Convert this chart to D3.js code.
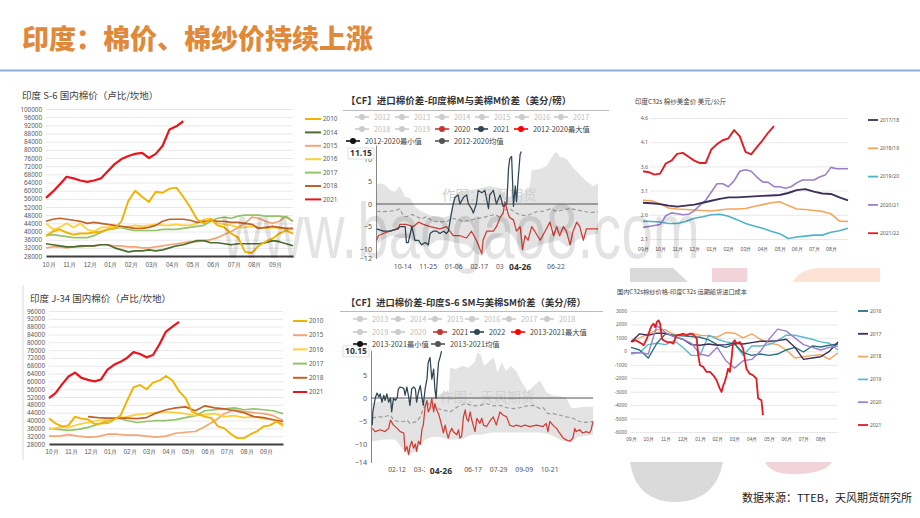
<!DOCTYPE html>
<html><head><meta charset="utf-8">
<script src="https://cdn.jsdelivr.net/npm/d3@7"></script>
<style>
body{margin:0;background:#fff;}
svg{display:block;font-family:"Noto Sans CJK SC","Noto Sans",sans-serif;}
</style></head><body>
<svg id="c" width="920" height="518"></svg>
<script>
// ================= DATA =================
const pageTitle = "印度：棉价、棉纱价持续上涨";
const sourceText = "数据来源：TTEB，天风期货研究所";
const monthsOct = ["10月","11月","12月","01月","02月","03月","04月","05月","06月","07月","08月","09月"];
const monthsSep = ["09月","10月","11月","12月","01月","02月","03月","04月","05月","06月","07月","08月"];

// Panel 1: 印度 S-6 国内棉价 (卢比/坎地), 3 points per month from Oct
const s6Title = "印度 S-6 国内棉价（卢比/坎地）";
const s6Names = ["2010","2014","2015","2016","2017","2018","2021"];
const s6_2010 = [38000,40000,41000,39500,38500,39000,39000,39500,40000,41000,41500,45000,55000,60000,57000,54500,59500,59000,61000,61500,57000,52000,46000,44000,46000,43000,42000,39000,37000,30000,29500,33000,35000,36500,39000,40500,39000];
const s6_2014 = [34000,33500,33000,32500,32500,33000,33000,33000,33500,33500,32000,31000,30000,30500,30500,31000,30500,31000,32000,33000,33500,34500,35500,35500,34500,34500,34000,33500,34000,34000,34000,34000,34500,35500,35000,34000,33000];
const s6_2015 = [32000,32500,32500,32000,32500,32500,33000,33000,33500,33500,33000,33000,32500,32500,32000,32000,32500,33000,33500,34000,34500,35000,35000,35500,36000,37000,38500,40000,42000,44000,47000,46500,45000,44000,45000,47500,45000];
const s6_2016 = [44000,41000,42000,44000,42000,44000,41000,40000,42000,42000,42500,42000,42500,43000,42500,43000,43500,43000,43000,43500,43000,43000,44000,46000,46500,44000,43500,43000,42000,42000,42500,42000,41500,42000,41500,41000,41000];
const s6_2017 = [38000,38500,38000,37500,37000,37000,37000,38000,39500,41000,41500,42000,41000,40500,40500,40500,40500,41000,41000,41000,41500,42000,42500,43000,45000,46500,47000,46500,47500,48000,48000,48000,47500,47500,47500,47000,45000];
const s6_2018 = [45000,46000,46500,46000,45500,45000,44000,44500,44000,43500,43000,42500,42000,41500,41500,42000,43000,45000,46000,46000,46000,45500,44500,45000,45500,45000,45000,44500,44500,44000,43500,41500,42000,42500,42000,41500,41500];
const s6_2021 = [56500,59500,63000,66800,66000,65000,64300,65000,66000,69500,73000,75500,77000,78000,78500,76000,78000,82000,90000,91500,94000];

// Panel 4: 印度 J-34 国内棉价
const j34Title = "印度 J-34 国内棉价（卢比/坎地）";
const j34Names = ["2010","2015","2016","2017","2018","2021"];
const j34_2010 = [41200,38500,37000,37500,42000,41000,40500,38200,38500,38700,40500,42500,50000,57000,58200,56000,59400,60500,62800,60500,55000,51500,44500,43000,42000,41200,37000,36000,33000,31000,31000,33000,34500,37000,37500,39500,38000];
const j34_2015 = [32000,32000,32800,32000,31500,31800,33000,33000,32500,32500,32000,31500,32000,33500,34000,34400,37000,39900,43500,45500,44600,44000,43500,42500,40000];
const j34_2016 = [35500,36500,36500,38000,39000,40000,40500,41000,42000,43000,43500,44000,44500,44000,43500,42500,43000,43500,42000,42500,41500,42000,41000,40500,37000];
const j34_2017 = [36000,35500,35000,35500,36500,38000,40000,41500,40000,39000,39500,40000,40000,40500,41500,42500,45000,45500,46000,46500,45500,46000,45500,45000,43500];
const j34_2018 = [42000,41500,41200,41200,41200,41000,41500,43800,45500,46500,47000,45000,47500,46500,46000,45000,44000,42000,41500,40400,39500];
const j34_2021 = [51400,54000,58500,62500,64500,61800,60800,60000,61000,66000,68500,70000,72000,75000,74000,72300,73500,79000,85500,88000,90500];

// Panel 2: 印度棉M与美棉M价差 (day of season from Sep 1)
const p2Title = "【CF】进口棉价差-印度棉M与美棉M价差（美分/磅）";
const p2Legend = ["2012","2013","2014","2015","2016","2017","2018","2019","2020","2021","2012-2020最大值","2012-2020最小值","2012-2020均值"];
const p2TickDays = [43,85,127,169,211,295];
const p2TickLabels = ["10-14","11-25","01-06","02-17","03-31","06-22"];
const p2PointerDay = 237, p2PointerLabel = "04-26", p2PointerValue = 11.15;
const p2YTicks = [-12,-10,-5,0,5,10];
const p2_max = [[0,4.2],[7,4.6],[15,4.2],[23,3.1],[31,2.7],[39,3.9],[48,1.6],[56,1.3],[64,-0.5],[72,-1.5],[81,-2],[89,-2.5],[100,-2.8],[111,-3],[122,-2.5],[127,1.5],[133,2.5],[149,3],[171,3.5],[187,4],[204,3.5],[215,2],[226,1],[237,2],[248,3],[253,4],[256,7.4],[270,7.7],[281,8.5],[292,11],[297,11.5],[302,10.5],[313,10],[324,8],[335,6.5],[346,5],[357,4],[365,4.5]];
const p2_min = [[0,-9],[10,-8],[25,-7],[40,-7.5],[55,-7.5],[70,-9],[85,-9.5],[100,-8],[115,-8],[130,-8.5],[150,-9],[165,-11],[175,-11.5],[190,-8],[205,-7],[215,-6],[225,-7],[240,-10.5],[255,-10],[270,-9],[285,-8.5],[300,-8],[315,-9.5],[330,-8],[345,-7],[365,-6.5]];
const p2_mean = [[1,-1.6],[12,-1.7],[23,-1.6],[34,-1.3],[39,-1.1],[45,-2.6],[50,-2.8],[59,-2.3],[67,-2.8],[75,-3.3],[83,-2.8],[94,-3.8],[105,-3.9],[116,-3.9],[124,-3.2],[133,-3.3],[144,-3.9],[155,-3.6],[165,-3.2],[176,-3.0],[187,-2.6],[196,-2.3],[204,-3.0],[212,-1.3],[220,-1.0],[229,-1.9],[237,-2.4],[248,-2.6],[256,-2.1],[264,-1.7],[275,-1.6],[286,-1.1],[297,-1.6],[308,-1.3],[319,-1.0],[330,-1.3],[341,-1.6],[352,-1.9],[365,-1.7]];
const p2_2020 = [[1,-8],[4,-7],[12,-6.5],[23,-6],[37,-5.5],[39,-4.5],[50,-4.5],[61,-5],[70,-4],[78,-4.5],[89,-5],[105,-5.5],[116,-5],[127,-7],[138,-7],[149,-7.5],[157,-6],[165,-8],[174,-11],[176,-8],[182,-6],[193,-6],[198,-5],[204,-3],[209,-2],[212,0.5],[215,-1],[218,-2.5],[220,-3],[226,-3.5],[231,-6],[237,-5],[241,-10],[245,-7],[250,-8],[256,-5],[261,-6],[270,-8],[278,-6],[286,-4],[292,-7],[297,-5],[302,-7],[308,-5],[313,-6],[319,-9],[324,-6],[330,-4],[335,-5],[341,-8],[346,-5.5],[357,-5.5],[365,-5.5]];
const p2_2021 = [[1,-5.5],[12,-6],[23,-6],[34,-5.5],[39,-5],[48,-5],[50,-8.5],[53,-8.5],[59,-5],[64,-8],[70,-8],[75,-9],[81,-8.5],[86,-9],[89,-6.5],[94,-6],[100,-6],[105,-6.5],[111,-6],[116,-6.5],[119,-6],[124,-2],[127,0],[130,1.5],[135,2],[138,0],[144,1.5],[149,2],[152,0],[157,-1],[160,-2],[165,0],[168,3],[174,2.5],[179,3],[185,-1],[187,2],[193,3],[198,0],[204,2],[209,-0.5],[215,0],[218,8],[220,10],[223,10.5],[226,-0.5],[229,4],[231,0.5],[234,6],[237,11],[239,11.6]];

// Panel 5: 印度S-6 SM与美棉SM价差 (day of year)
const p5Title = "【CF】进口棉价差-印度S-6 SM与美棉SM价差（美分/磅）";
const p5Legend = ["2013","2014","2015","2016","2017","2018","2019","2020","2021","2022","2013-2021最大值","2013-2021最小值","2013-2021均值"];
const p5TickDays = [42,84,167,209,251,293];
const p5TickLabels = ["02-12","03-26","06-17","07-29","09-09","10-21"];
const p5PointerDay = 115, p5PointerLabel = "04-26", p5PointerValue = 10.15;
const p5YTicks = [-14,-10,-5,0,5];
const p5_max = [[0,-1.2],[10,-0.9],[20,-0.5],[30,-0.1],[40,-0.5],[50,-0.1],[60,-0.5],[70,-0.1],[80,-0.5],[90,-0.1],[100,0.2],[110,0.6],[120,1.3],[128,1.3],[130,6.6],[140,6.3],[150,7],[160,6.6],[170,7.7],[175,9.9],[180,9.5],[186,7],[195,8.1],[202,8.8],[208,5.6],[215,7.7],[222,5.9],[230,7],[240,5.6],[248,3.4],[258,1.3],[268,2.7],[278,3.8],[288,1.3],[298,0.6],[320,0.2],[330,-2.3],[350,-1.9],[365,-1.9]];
const p5_min = [[0,-9.5],[20,-9],[40,-9],[55,-11.6],[62,-12.3],[75,-11.6],[81,-10.1],[90,-9],[100,-8.5],[115,-8.5],[125,-9],[140,-9],[150,-8.9],[165,-8],[180,-8],[200,-7.5],[220,-7.5],[240,-7.5],[260,-7.5],[280,-7.5],[295,-8],[310,-9],[321,-9.5],[330,-9.5],[340,-8.5],[365,-8]];
const p5_mean = [[2,-4.4],[10,-4.1],[21,-4.1],[32,-3.7],[37,-4.8],[45,-5.1],[54,-5.1],[59,-4.8],[64,-5.5],[75,-5.1],[81,-4.1],[86,-2.3],[92,-0.9],[97,-1.6],[103,-1.9],[108,-2.3],[119,-2.6],[130,-3],[138,-2.3],[146,-1.6],[157,-1.2],[168,-1.7],[179,-1.6],[190,-1.2],[201,-1.7],[212,-1.6],[223,-2.1],[234,-2.3],[245,-2.1],[256,-1.7],[267,-1.6],[278,-2.3],[283,-2.1],[291,-3.4],[299,-3.4],[310,-3.7],[321,-4.1],[332,-4.4],[343,-5.1],[354,-5.3],[365,-5.1]];
const p5_2021 = [[2,-6.6],[7,-7.3],[15,-6.9],[23,-7.3],[29,-6.6],[32,-4.8],[37,-5.9],[43,-6.6],[48,-7.3],[54,-7.6],[56,-11.6],[59,-10.5],[62,-12.3],[64,-10.5],[67,-9.4],[70,-10.9],[73,-10],[75,-11.6],[78,-9.4],[81,-10.1],[84,-6.6],[86,-5.9],[89,-1.9],[92,-0.5],[94,-3],[97,-2.3],[100,-0.1],[103,-3],[105,-1.2],[108,-2.6],[111,-3.4],[114,-4.8],[116,-5.9],[119,-7.6],[122,-5.9],[124,-7.3],[127,-8.7],[130,-7.3],[133,-6.6],[135,-7.3],[141,-8],[144,-6.9],[146,-8.7],[149,-8.3],[152,-4.1],[155,-2.6],[157,-4.4],[160,-5.1],[163,-3],[165,-4.4],[168,-5.9],[171,-7.3],[174,-4.4],[179,-5.5],[182,-4.4],[185,-5.9],[190,-6.2],[195,-5.1],[201,-4.1],[206,-5.9],[212,-3],[217,-3.7],[223,-4.1],[228,-5.9],[234,-6.2],[239,-5.9],[247,-6.2],[253,-5.9],[261,-6.2],[272,-5.9],[283,-6.2],[288,-5.5],[291,-7.3],[294,-5.1],[299,-5.9],[305,-6.6],[310,-7.6],[316,-8.7],[321,-9.1],[327,-9.4],[332,-8.7],[335,-6.6],[337,-7.3],[343,-6.9],[348,-7.6],[354,-7.3],[359,-7.6],[362,-6.9],[365,-5.1]];
const p5_2022 = [[2,-5.9],[3,-3],[7,0],[10,1.1],[13,0.2],[15,0.9],[18,-0.9],[21,0.6],[23,-0.5],[26,0.9],[29,-0.9],[32,0],[34,-3],[37,0],[40,-0.5],[43,0],[45,2],[48,2.4],[54,2.1],[56,0.6],[59,2.4],[62,0.2],[64,-1.6],[67,2],[70,2.4],[73,2],[75,-0.9],[78,1.3],[81,2.7],[84,-0.1],[86,-1.6],[89,2],[92,4.1],[94,7.7],[97,8.8],[100,4.1],[103,6.3],[105,2],[107,-0.1],[109,4.1],[111,7.7],[114,9.1],[116,10.2]];

// Panel 3: 印度C32s 棉纱美金价 美元/公斤 (months from Sep)
const p3Title = "印度C32s 棉纱美金价   美元/公斤";
const p3Names = ["2017/18","2018/19","2019/20","2020/21","2021/22"];
const p3YTicks = [2.1,2.6,3.1,3.6,4.1,4.6];
const p3_1718 = [2.85,2.84,2.82,2.79,2.77,2.79,2.81,2.85,2.89,2.93,2.96,2.96,2.97,2.98,2.99,3.00,3.01,3.05,3.11,3.13,3.08,3.04,3.03,2.96,2.90];
const p3_1819 = [2.90,2.89,2.83,2.74,2.72,2.71,2.70,2.69,2.68,2.70,2.72,2.72,2.73,2.77,2.81,2.85,2.87,2.79,2.72,2.71,2.69,2.67,2.62,2.47,2.46];
const p3_1920 = [2.47,2.46,2.45,2.42,2.42,2.46,2.53,2.56,2.60,2.61,2.57,2.50,2.42,2.37,2.32,2.26,2.21,2.11,2.14,2.16,2.18,2.18,2.24,2.27,2.32];
const p3_2021 = [2.34,2.36,2.38,2.40,2.58,2.64,2.62,2.60,2.61,2.68,2.80,2.90,3.07,3.24,3.24,3.18,3.30,3.50,3.53,3.50,3.38,3.28,3.27,3.18,3.18,3.15,3.18,3.26,3.32,3.32,3.32,3.38,3.42,3.58,3.55,3.55,3.55];
const p3_2122 = [3.50,3.48,3.43,3.45,3.66,3.72,3.86,3.88,3.80,3.72,3.67,3.67,3.95,4.06,4.14,4.18,4.35,4.22,3.90,3.85,4.00,4.14,4.30,4.43];

// Panel 6: 国内C32s棉纱价格-印度C32s 远期船货进口成本
const p6Title = "国内C32s棉纱价格-印度C32s 远期船货进口成本";
const p6Names = ["2016","2017","2018","2019","2020","2021"];
const p6_2016 = [300,100,-500,600,1300,1200,1150,1100,1050,850,500,300,550,-100,-300,-200,-300,-200,100,300,-50,400,320,450,550];
const p6_2017 = [700,1300,1200,1350,1350,1100,900,500,450,550,450,500,600,550,650,750,750,800,900,300,-600,-500,-400,0,700];
const p6_2018 = [800,1000,1300,1600,1600,1250,1200,1350,1200,1150,1050,1400,1350,1000,1300,900,600,500,100,-500,-400,-300,-250,-600,-100];
const p6_2019 = [-200,-100,500,600,500,800,300,-300,-300,1200,900,700,600,-300,400,400,500,800,1200,1200,1050,900,700,600,100];
const p6_2020 = [-100,-100,-200,1900,1400,1100,900,600,-200,-350,300,-700,-1250,-700,-600,0,900,1650,1500,1000,500,300,100,300,400];
const p6_2021 = [[0.06,690],[0.25,820],[0.44,700],[0.63,570],[0.73,450],[0.92,940],[1.12,1680],[1.21,1930],[1.31,2050],[1.40,1800],[1.5,2180],[1.6,2300],[1.69,2050],[1.79,940],[1.88,820],[2.08,690],[2.27,690],[2.46,570],[2.56,940],[2.65,1190],[2.85,1250],[3.04,1310],[3.23,1190],[3.42,1310],[3.62,1250],[3.81,940],[3.9,-300],[4.0,-1040],[4.19,-1160],[4.38,-1530],[4.58,-1530],[4.77,-1780],[4.96,-2150],[5.15,-2770],[5.25,-3020],[5.35,-2520],[5.44,-2270],[5.54,-1780],[5.63,-1290],[5.73,-1530],[5.83,-500],[5.92,690],[6.02,820],[6.12,570],[6.31,690],[6.5,200],[6.69,-1290],[6.88,-1660],[7.08,-1780],[7.27,-2030],[7.37,-3510],[7.46,-3560],[7.56,-3640],[7.65,-4750]];

// ================= DRAW =================
const svg = d3.select('#c');

// decorative watermark shapes (behind lower-right chart)
const deco = svg.append('g');
deco.append('path').attr('d','M630,268 L673,268 L688,282 L630,282 Z').attr('fill','#dadada');
deco.append('rect').attr('x',712).attr('y',268).attr('width',35).attr('height',14).attr('fill','#f3d3da');
deco.append('path').attr('d','M793,282 Q800,268 822,268 L880,268 L880,282 Z').attr('fill','#fde2d6');
deco.append('path').attr('d','M630,462 Q636,503 678,502 Q716,500 723,462 Z').attr('fill','#dadada');
deco.append('path').attr('d','M765,462 Q772,476 800,474 Q826,472 832,462 Z').attr('fill','#f3d3da');
deco.append('rect').attr('x',600).attr('y',282).attr('width',320).attr('height',180).attr('fill','#fff');

// page title + rule
svg.append('text').attr('x',22).attr('y',49).text(pageTitle)
  .attr('font-size',27).attr('font-weight',900).attr('fill','#E0893A');
svg.append('line').attr('x1',0).attr('x2',920).attr('y1',70.5).attr('y2',70.5)
  .attr('stroke','#8EAADB').attr('stroke-width',2);

function seriesPoints(s){
  return s.pairs ? s.pairs : s.values.map((v,i)=>[s.start + i*s.step, v]);
}

function excelChart(o){
  const g = svg.append('g');
  const x = d3.scaleLinear().domain([0,12]).range([o.x0,o.x1]);
  const y = d3.scaleLinear().domain(o.yDom).range([o.yb,o.yt]);
  const ya = d3.axisLeft(y).tickValues(o.yTicks).tickSize(-(o.gx1-o.gx0)).tickSizeOuter(0)
     .tickPadding(o.yPad).tickFormat(o.yFmt);
  const yg = g.append('g').attr('transform',`translate(${o.gx0},0)`).call(ya);
  yg.select('.domain').remove();
  yg.selectAll('.tick line').attr('stroke','#e2e2e2').attr('stroke-width',0.8);
  yg.selectAll('text').attr('font-size',o.fs).attr('fill','#595959').attr('font-family','"Noto Sans",sans-serif');
  const xa = d3.axisBottom(x).tickValues(d3.range(12)).tickFormat(i=>o.months[i])
     .tickSize(0).tickSizeOuter(0).tickPadding(o.xPad);
  const xg = g.append('g').attr('transform',`translate(0,${y(o.yDom[0])})`).call(xa);
  if (o.axisLine) xg.select('.domain').attr('stroke','#3f3f3f').attr('stroke-width',1.8);
  else xg.select('.domain').remove();
  xg.selectAll('text').attr('font-size',o.fs).attr('fill','#595959').attr('dx',o.xOff);
  const line = d3.line().x(d=>x(d[0])).y(d=>y(d[1])).curve(d3.curveLinear);
  o.series.forEach(s=>{
    g.append('path').datum(seriesPoints(s)).attr('d',line).attr('fill','none')
      .attr('stroke',s.color).attr('stroke-width',s.w||o.lw).attr('stroke-linejoin','round');
  });
  // legend
  o.legend.forEach((name,i)=>{
    const s = o.series.find(d=>d.name===name);
    const ly = o.ly0 + i*o.lstep;
    g.append('line').attr('x1',o.lx0).attr('x2',o.lx1).attr('y1',ly).attr('y2',ly)
      .attr('stroke',s.color).attr('stroke-width',o.legW);
    g.append('text').attr('x',o.lx1+2).attr('y',ly).attr('dy','0.35em').text(name)
      .attr('font-size',o.lfs).attr('fill','#595959').attr('font-family','"Noto Sans",sans-serif');
  });
  g.append('text').attr('x',o.tx).attr('y',o.ty).text(o.title).attr('font-size',o.tfs).attr('fill','#404040');
}

const C = {y10:'#F2B200',g14:'#4B6E2E',s15:'#F3A674',y16:'#FFCF3A',g17:'#92C46A',b18:'#C2622B',r21:'#E8161B'};

// Panel 1
excelChart({
  x0:46,x1:293,gx0:46,gx1:293,yb:256,yt:109,yDom:[28000,100000],
  yTicks:d3.range(28000,100001,4000),yFmt:d=>d,yPad:4,fs:6.3,xPad:7,xOff:2.5,axisLine:true,
  months:monthsOct,lw:1.7,
  series:[
    {name:'2015',color:C.s15,start:0,step:1/3,values:s6_2015},
    {name:'2014',color:C.g14,start:0,step:1/3,values:s6_2014},
    {name:'2017',color:C.g17,start:0,step:1/3,values:s6_2017},
    {name:'2016',color:C.y16,start:0,step:1/3,values:s6_2016},
    {name:'2018',color:C.b18,start:0,step:1/3,values:s6_2018},
    {name:'2010',color:C.y10,start:0,step:1/3,values:s6_2010,w:1.9},
    {name:'2021',color:C.r21,start:0,step:1/3,values:s6_2021,w:2.2},
  ],
  legend:s6Names,lx0:305,lx1:321,ly0:119,lstep:13.4,lfs:6.3,legW:2,
  title:s6Title,tx:22,ty:98.5,tfs:9.5
});

// Panel 4
svg.append('line').attr('x1',23).attr('x2',23).attr('y1',285).attr('y2',460).attr('stroke','#cfcfcf').attr('stroke-width',0.8);
excelChart({
  x0:49,x1:283,gx0:49,gx1:283,yb:444,yt:311,yDom:[28000,96000],
  yTicks:d3.range(28000,96001,4000),yFmt:d=>d,yPad:4,fs:6.3,xPad:6,xOff:2.5,axisLine:true,
  months:monthsOct,lw:1.7,
  series:[
    {name:'2015',color:C.s15,start:0,step:0.5,values:j34_2015},
    {name:'2017',color:C.g17,start:0,step:0.5,values:j34_2017},
    {name:'2016',color:C.y16,start:0,step:0.5,values:j34_2016},
    {name:'2018',color:C.b18,start:2,step:0.5,values:j34_2018},
    {name:'2010',color:C.y10,start:0,step:1/3,values:j34_2010,w:1.9},
    {name:'2021',color:C.r21,start:0,step:1/3,values:j34_2021,w:2.2},
  ],
  legend:j34Names,lx0:293,lx1:307,ly0:321,lstep:14.2,lfs:6.3,legW:2,
  title:j34Title,tx:30,ty:301.5,tfs:9.5
});

// Panel 3
excelChart({
  x0:643,x1:848,gx0:650,gx1:848,yb:239,yt:118,yDom:[2.1,4.6],
  yTicks:p3YTicks,yFmt:d3.format('.1f'),yPad:2,fs:5.2,xPad:8,xOff:0,axisLine:false,
  months:monthsSep,lw:1.6,
  series:[
    {name:'2019/20',color:'#4FB3C8',start:0,step:0.5,values:p3_1920},
    {name:'2018/19',color:'#F4A55E',start:0,step:0.5,values:p3_1819},
    {name:'2020/21',color:'#9C80C7',start:0,step:1/3,values:p3_2021},
    {name:'2017/18',color:'#3D2F5C',start:0,step:0.5,values:p3_1718,w:1.9},
    {name:'2021/22',color:'#E31B23',start:0,step:1/3,values:p3_2122,w:1.9},
  ],
  legend:p3Names,lx0:868,lx1:878,ly0:120,lstep:28.3,lfs:5,legW:1.8,
  title:p3Title,tx:635,ty:104,tfs:6.5
});

// Panel 6
excelChart({
  x0:631,x1:838,gx0:631,gx1:838,yb:432,yt:311,yDom:[-6000,3000],
  yTicks:d3.range(-6000,3001,1000),yFmt:d=>d,yPad:4,fs:4.8,xPad:6,xOff:0,axisLine:false,
  months:monthsSep,lw:1.4,
  series:[
    {name:'2018',color:'#F4A55E',start:0,step:0.5,values:p6_2018},
    {name:'2019',color:'#5BBBD1',start:0,step:0.5,values:p6_2019},
    {name:'2016',color:'#27737D',start:0,step:0.5,values:p6_2016},
    {name:'2017',color:'#3D2F5C',start:0,step:0.5,values:p6_2017},
    {name:'2020',color:'#9C80C7',start:0,step:0.5,values:p6_2020},
    {name:'2021',color:'#E31B23',pairs:p6_2021,w:1.8},
  ],
  legend:p6Names,lx0:858,lx1:868,ly0:311,lstep:22.8,lfs:5,legW:1.8,
  title:p6Title,tx:617,ty:294,tfs:6.2
});

// echarts-style spread panels
function spreadChart(o){
  const g = svg.append('g');
  const x = d3.scaleLinear().domain([0,365]).range([o.x0,o.x1]);
  const y = d3.scaleLinear().domain(o.yDom).range([o.yb,o.yt]);
  const line = d3.line().x(d=>x(d[0])).y(d=>y(d[1]));
  // title + underline
  g.append('text').attr('x',o.tx).attr('y',o.ty).text(o.title).attr('font-size',o.tfs)
    .attr('font-weight',700).attr('fill','#333');
  g.append('line').attr('x1',o.ux0).attr('x2',o.ux1).attr('y1',o.uy).attr('y2',o.uy).attr('stroke','#bbb').attr('stroke-width',1);
  // band
  g.append('path').attr('d',line(o.max.concat(o.min.slice().reverse()))+'Z').attr('fill','#e3e3e3');
  g.append('text').attr('x',o.wmX).attr('y',o.wmY).text('作图：天风期货').attr('font-size',13.5).attr('fill','#d0d0d0');
  // y axis
  const yg = g.append('g').attr('transform',`translate(${o.x0},0)`)
     .call(d3.axisLeft(y).tickValues(o.yTicks).tickSize(0).tickSizeOuter(0).tickPadding(4));
  yg.select('.domain').attr('stroke','#888').attr('stroke-width',1);
  yg.selectAll('text').attr('font-size',7.2).attr('fill','#555').attr('font-family','"Noto Sans",sans-serif');
  // x axis labels
  const xg = g.append('g').attr('transform',`translate(0,${o.yb})`)
     .call(d3.axisBottom(x).tickValues(o.xTicks).tickFormat((d,i)=>o.xLabels[i]).tickSize(0).tickSizeOuter(0).tickPadding(o.xPad));
  xg.select('.domain').remove();
  xg.selectAll('text').attr('font-size',6.8).attr('fill','#555').attr('font-family','"Noto Sans",sans-serif');
  // mean dashed
  g.append('path').datum(o.mean).attr('d',line).attr('fill','none').attr('stroke','#9a9a9a')
    .attr('stroke-width',1.2).attr('stroke-dasharray','4,2.5');
  // zero line
  g.append('line').attr('x1',o.x0).attr('x2',o.x1).attr('y1',y(0)).attr('y2',y(0)).attr('stroke','#555').attr('stroke-width',1);
  // series
  o.series.forEach(s=>{
    g.append('path').datum(s.pairs).attr('d',line).attr('fill','none').attr('stroke',s.color)
      .attr('stroke-width',1.25).attr('stroke-linejoin','round');
  });
  // pointer labels
  const px = x(o.pDay), py = y(o.pVal);
  g.append('rect').attr('x',px-16).attr('y',o.yb+3).attr('width',32).attr('height',12).attr('fill','#fff');
  g.append('text').attr('x',px).attr('y',o.yb+9).attr('dy','0.35em').attr('text-anchor','middle')
    .text(o.pLabel).attr('font-size',8.5).attr('font-weight',700).attr('fill','#333').attr('font-family','"Noto Sans",sans-serif');
  g.append('rect').attr('x',o.x0-28).attr('y',py-5.5).attr('width',26).attr('height',11)
    .attr('fill','#fff').attr('stroke','#d6d6d6').attr('stroke-width',0.8);
  g.append('text').attr('x',o.x0-15).attr('y',py).attr('dy','0.35em').attr('text-anchor','middle')
    .text(d3.format('.2f')(o.pVal)).attr('font-size',8.5).attr('font-weight',700).attr('fill','#333').attr('font-family','"Noto Sans",sans-serif');
  // legend
  o.legendNames.forEach((name,i)=>{
    const p = o.legendPos[i];
    const col = o.legendColors[i];
    g.append('line').attr('x1',p[0]-7).attr('x2',p[0]+7).attr('y1',p[1]).attr('y2',p[1]).attr('stroke',col).attr('stroke-width',1.6);
    g.append('circle').attr('cx',p[0]).attr('cy',p[1]).attr('r',3).attr('fill',col);
    g.append('text').attr('x',p[0]+12).attr('y',p[1]).attr('dy','0.35em').text(name)
      .attr('font-size',7.3).attr('fill',col==='#cccccc'?'#bdbdbd':'#444');
  });
}

const gray='#cccccc';
const p2Pos = [[362,117],[402,117],[442,117],[482,117],[522,117],[561,117],
  [362,129],[402,129],[442,129],[481,129],[521,129],[353,141],[442,141]];
spreadChart({
  x0:376,x1:598,yb:258.4,yt:145.1,yDom:[-12,13],yTicks:p2YTicks,
  xTicks:p2TickDays,xLabels:p2TickLabels,xPad:6,
  pDay:p2PointerDay,pLabel:p2PointerLabel,pVal:p2PointerValue,
  max:p2_max,min:p2_min,mean:p2_mean,
  series:[{color:'#cf3d37',pairs:p2_2020},{color:'#2F4554',pairs:p2_2021}],
  title:p2Title,tx:346,ty:104,tfs:9.5,ux0:343,ux1:609,uy:110.5,wmX:442,wmY:200,
  legendNames:p2Legend,legendPos:p2Pos,
  legendColors:[gray,gray,gray,gray,gray,gray,gray,gray,'#c23531','#2f4554','#ff0000','#111111','#555555']
});

const p5Pos = [[360,319],[398,319],[435,319],[472,319],[509,319],[547,319],
  [360,332],[398,332],[440,332],[477,332],[518,332],[360,344],[438,344]];
spreadChart({
  x0:371,x1:593,yb:462.4,yt:350.2,yDom:[-14,10.4],yTicks:p5YTicks,
  xTicks:p5TickDays,xLabels:p5TickLabels,xPad:5,
  pDay:p5PointerDay,pLabel:p5PointerLabel,pVal:p5PointerValue,
  max:p5_max,min:p5_min,mean:p5_mean,
  series:[{color:'#cf3d37',pairs:p5_2021},{color:'#2F4554',pairs:p5_2022}],
  title:p5Title,tx:346,ty:306,tfs:9.3,ux0:340,ux1:603,uy:311.5,wmX:440,wmY:402,
  legendNames:p5Legend,legendPos:p5Pos,
  legendColors:[gray,gray,gray,gray,gray,gray,gray,gray,'#c23531','#2f4554','#ff0000','#111111','#555555']
});

// source note
svg.append('text').attr('x',742).attr('y',501.5).text(sourceText).attr('font-size',11).attr('fill','#1a1a1a');

// site watermark
svg.append('text').attr('x',222).attr('y',258).text('www.baogao8.com')
  .attr('font-family','"Liberation Sans",Arial,sans-serif').attr('font-size',77)
  .attr('textLength',478).attr('lengthAdjust','spacingAndGlyphs')
  .attr('fill','#000').attr('fill-opacity',0.11);
</script></body></html>
